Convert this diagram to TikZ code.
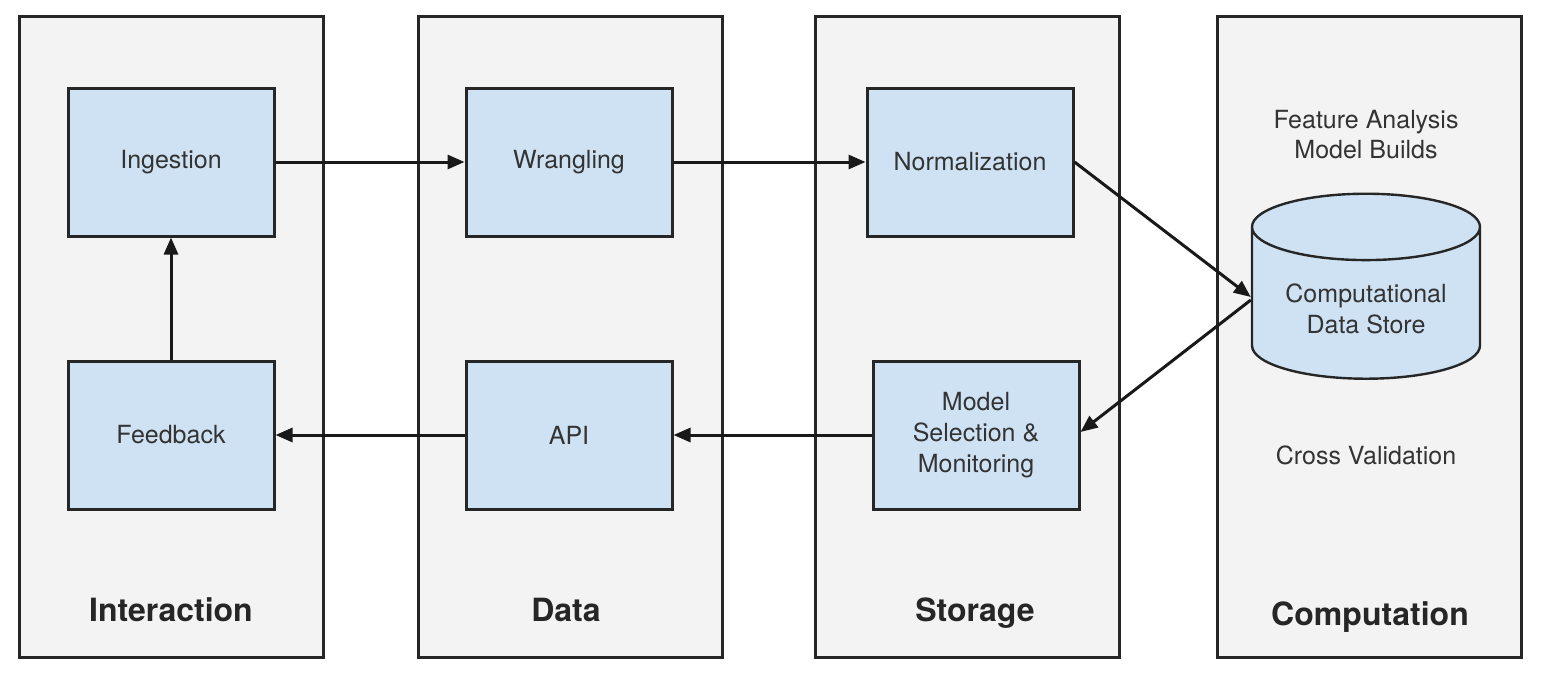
\documentclass[tikz,border=0pt]{standalone}
\usepackage{fontspec}
\setmainfont{TeX Gyre Heros}
\usepackage{tikz}
\usetikzlibrary{arrows.meta,positioning,shapes.geometric}
\definecolor{panelfill}{HTML}{F3F3F3}
\definecolor{boxfill}{HTML}{CFE2F3}
\definecolor{edge}{HTML}{262626}
\definecolor{ink}{HTML}{333333}

\begin{document}
\begin{tikzpicture}[x=0.5pt,y=-0.5pt,
  panel/.style={draw=edge,line width=1.5pt,fill=panelfill,
                minimum width=152pt,minimum height=320.5pt},
  box/.style={draw=edge,line width=1.5pt,fill=boxfill,
              minimum width=103pt,minimum height=74pt,align=center,
              font=\fontsize{12.5}{15.5}\selectfont,text=ink},
  store/.style={cylinder,shape border rotate=90,aspect=0.38,draw=edge,
                line width=1.2pt,fill=boxfill,minimum width=114pt,
                minimum height=92.5pt,align=center,
                font=\fontsize{12.5}{15.5}\selectfont,text=ink},
  note/.style={align=center,font=\fontsize{12.5}{15}\selectfont,text=ink},
  title/.style={anchor=base,font=\fontsize{16}{19}\selectfont\bfseries,
                text=black!85},
  arr/.style={-{Triangle[length=8.5pt,width=7pt]},line width=1.5pt,black!90}
]
\useasboundingbox (0,0) rectangle (1546,680);
% columns
\node[panel] (interaction) at (171,336.5) {};
\node[panel] (data) at (570,336.5) {};
\node[panel] (storage) at (967,336.5) {};
\node[panel] (computation) at (1369.5,336.5) {};
\node[title] (lblint) at (171,621) {Interaction};
\node[title] (lbldata) at (566,621) {Data};
\node[title] (lblstore) at (975,621) {Storage};
\node[title] (lblcomp) at (1370,625) {Computation};
% steps
\node[box] (ingestion) at (171,162) {Ingestion};
\node[box] (feedback) at (171,435) {Feedback};
\node[box] (wrangling) at (569,162) {Wrangling};
\node[box] (api) at (569,435) {API};
\node[box] (normal) at (970,162) {Normalization};
\node[box] (modelsel) at (976,435) {Model\\Selection \&\\Monitoring};
% computation column
\node[note] (featnote) at (1366,135) {Feature Analysis\\Model Builds};
\node[store] (cds) at (1366,309) {Computational\\Data Store};
\node[note] (cvnote) at (1366,455) {Cross Validation};
% flow
\draw[arr] (ingestion) -- (wrangling);
\draw[arr] (wrangling) -- (normal);
\draw[arr] (normal.east) -- ([yshift=6pt]cds.west);
\draw[arr] ([yshift=4.5pt]cds.west) -- ([yshift=1.5pt]modelsel.east);
\draw[arr] (modelsel) -- (api);
\draw[arr] (api) -- (feedback);
\draw[arr] (feedback) -- (ingestion);
\end{tikzpicture}
\end{document}
